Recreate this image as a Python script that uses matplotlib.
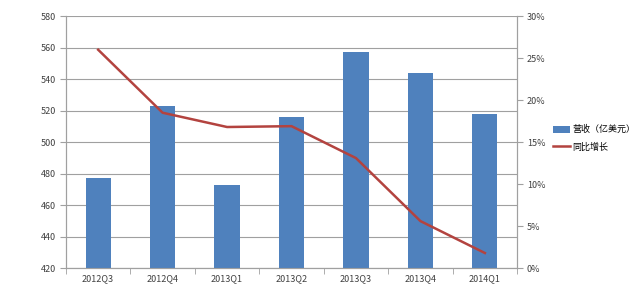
import matplotlib
matplotlib.use("Agg")
import matplotlib.pyplot as plt
from matplotlib.ticker import FuncFormatter, MultipleLocator
from matplotlib.patches import Patch
from matplotlib.lines import Line2D

plt.rcParams['font.family'] = ['Noto Sans CJK SC', 'DejaVu Sans']

categories = ['2012Q3', '2012Q4', '2013Q1', '2013Q2', '2013Q3', '2013Q4', '2014Q1']
revenue = [477, 523, 473, 516, 557, 544, 518]
growth = [26.0, 18.5, 16.8, 16.9, 13.1, 5.6, 1.8]
bar_label = '营收（亿美元）'
line_label = '同比增长'

bar_color = '#4F81BD'
line_color = '#B3433F'
grid_color = '#A0A0A0'
text_color = '#404040'

fig = plt.figure(figsize=(6.4, 2.88), dpi=100)
ax = fig.add_axes([0.103, 0.069, 0.705, 0.875])
x = list(range(len(categories)))
ax.bar(x, revenue, width=0.39, color=bar_color, zorder=3)
ax.set_ylim(420, 580)
ax.set_xlim(-0.5, len(categories) - 0.5)
ax.yaxis.set_major_locator(MultipleLocator(20))
ax.grid(axis='y', color=grid_color, linewidth=0.8, zorder=0)
ax.set_axisbelow(True)
ax.set_xticks(x)
ax.set_xticklabels(categories)
ax.set_xticks([i - 0.5 for i in range(len(categories) + 1)], minor=True)
ax.tick_params(axis='x', which='major', length=0, labelsize=6.5, colors=text_color, pad=4)
ax.tick_params(axis='x', which='minor', length=4, color=grid_color)
ax.tick_params(axis='y', length=4, color=grid_color, labelsize=6.5, labelcolor=text_color, pad=3)
for s in ax.spines.values():
    s.set_color(grid_color)
    s.set_linewidth(0.8)
ax.spines['top'].set_visible(False)

ax2 = ax.twinx()
ax2.plot(x, growth, color=line_color, linewidth=1.8, zorder=4)
ax2.set_ylim(0, 30)
ax2.yaxis.set_major_locator(MultipleLocator(5))
ax2.yaxis.set_major_formatter(FuncFormatter(lambda v, p: f'{v:.0f}%'))
ax2.tick_params(axis='y', length=4, color=grid_color, labelsize=6.5, labelcolor=text_color, pad=3)
for s in ax2.spines.values():
    s.set_color(grid_color)
    s.set_linewidth(0.8)
ax2.spines['top'].set_visible(False)

handles = [Patch(facecolor=bar_color, label=bar_label),
           Line2D([0], [0], color=line_color, linewidth=1.8, label=line_label)]
fig.legend(handles=handles, loc='center left', bbox_to_anchor=(0.858, 0.52),
           frameon=False, fontsize=6.5, handlelength=1.9, handleheight=0.8,
           handletextpad=0.3, labelspacing=0.9, borderaxespad=0)

fig.savefig('out.png', dpi=100, facecolor='white')
